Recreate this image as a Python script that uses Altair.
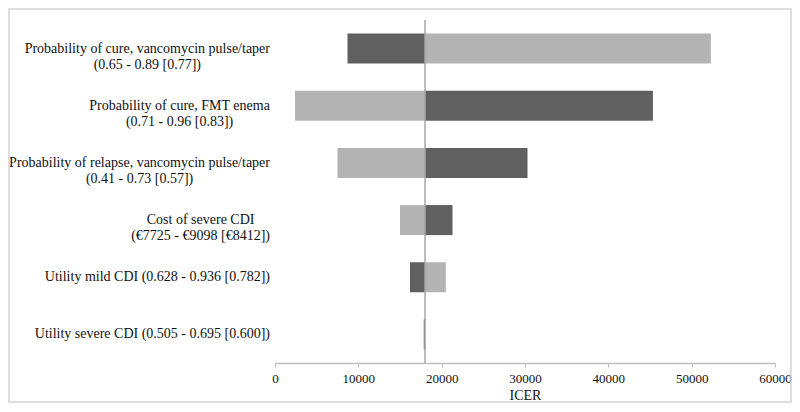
import altair as alt
import pandas as pd

# ---- data ----
param_lines = [
    ["Probability of cure, vancomycin pulse/taper", "(0.65 - 0.89 [0.77])"],
    ["Probability of cure, FMT enema", "(0.71 - 0.96 [0.83])"],
    ["Probability of relapse, vancomycin pulse/taper", "(0.41 - 0.73 [0.57])"],
    ["Cost of severe CDI", "(€7725 - €9098 [€8412])"],
    ["Utility mild CDI (0.628 - 0.936 [0.782])"],
    ["Utility severe CDI (0.505 - 0.695 [0.600])"],
]
icer_low_value = [8700, 45350, 30300, 21300, 16200, 17850]
icer_high_value = [52300, 2400, 7500, 15000, 20500, 18050]
base_icer = 18000
x_ticks = [0, 10000, 20000, 30000, 40000, 50000, 60000]
x_domain = [0, 60000]
axis_title = "ICER"

# ---- layout / style ----
W, H = 500, 343
PAD = {"left": 267, "top": 12, "right": 17, "bottom": 40}
FONT = "Liberation Serif"
LABEL_SIZE = 14
DARK, LIGHT = "#606060", "#b3b3b3"

# approximate Times advance widths (per 1000 em) to centre wrapped labels
TIMES = {" ": 250, "(": 333, ")": 333, ",": 250, "-": 333, ".": 250, "/": 278,
         "[": 333, "]": 333, "€": 500,
         "A": 722, "B": 667, "C": 667, "D": 722, "E": 611, "F": 556, "G": 722,
         "H": 722, "I": 333, "M": 889, "P": 556, "R": 667, "T": 611, "U": 722,
         "a": 444, "b": 500, "c": 444, "d": 500, "e": 444, "f": 333, "g": 500,
         "h": 500, "i": 278, "l": 278, "m": 778, "n": 500, "o": 500, "p": 500,
         "r": 333, "s": 389, "t": 278, "u": 500, "v": 500, "y": 500}


def text_width(s, size):
    return sum(TIMES.get(c, 500) for c in s) * size / 1000.0


labels = ["\n".join(lines) for lines in param_lines]
right_edge_px = -5
units_per_px = (x_domain[1] - x_domain[0]) / W
label_x = [x_domain[0] + (right_edge_px - max(text_width(l, LABEL_SIZE) for l in lines) / 2) * units_per_px
           for lines in param_lines]

rows = []
for lab, lo, hi in zip(labels, icer_low_value, icer_high_value):
    rows.append({"param": lab, "start": base_icer, "end": lo, "bound": "Low value"})
    rows.append({"param": lab, "start": base_icer, "end": hi, "bound": "High value"})
bars_df = pd.DataFrame(rows)
text_df = pd.DataFrame({"param": labels, "lx": label_x})
base_df = pd.DataFrame({"start": [base_icer]})
frame_df = pd.DataFrame({"k": [0]})

xscale = alt.Scale(domain=x_domain, nice=False)
yenc = alt.Y("param:N", sort=labels, axis=None,
             scale=alt.Scale(paddingInner=0.475, paddingOuter=0.2375))

bars = alt.Chart(bars_df).mark_bar().encode(
    x=alt.X("start:Q", scale=xscale,
            axis=alt.Axis(values=x_ticks, title=axis_title, format="d", grid=False,
                          tickSize=4, labelPadding=5, titlePadding=3, labelFlush=False,
                          labelFont=FONT, titleFont=FONT, labelFontSize=13,
                          titleFontSize=14, titleFontWeight="normal",
                          labelColor="#111111", titleColor="#111111",
                          domainColor="#bfbfbf", tickColor="#bfbfbf", domainWidth=1.5)),
    x2="end:Q",
    y=yenc,
    color=alt.Color("bound:N", scale=alt.Scale(domain=["Low value", "High value"],
                                                range=[DARK, LIGHT]), legend=None),
)

rule = alt.Chart(base_df).mark_rule(color="#a6a6a6", strokeWidth=1.5).encode(
    x=alt.X("start:Q", scale=xscale)
)

text = alt.Chart(text_df).mark_text(
    align="center", baseline="middle", lineBreak="\n", font=FONT,
    fontSize=LABEL_SIZE, lineHeight=16, color="#111111"
).encode(
    x=alt.X("lx:Q", scale=xscale),
    y=yenc,
    text="param:N",
)

frame = alt.Chart(frame_df).mark_rect(filled=False, stroke="#d4d4d4", strokeWidth=1.5).encode(
    x=alt.value(-PAD["left"] + 1), x2=alt.value(W + PAD["right"] - 1),
    y=alt.value(-PAD["top"] + 1), y2=alt.value(H + PAD["bottom"] - 1),
)

chart = alt.layer(bars, rule, text, frame).properties(
    width=W, height=H,
    autosize=alt.AutoSizeParams(type="none"),
    padding=PAD,
).configure_view(stroke=None)

chart.save("out.html", embed_options={"renderer": "svg", "actions": False})
